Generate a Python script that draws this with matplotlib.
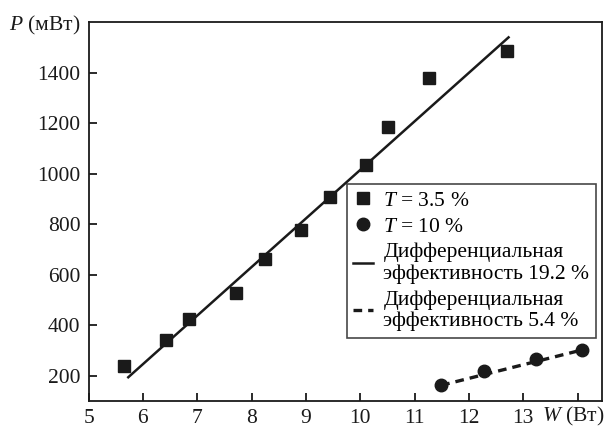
import numpy as np
from matplotlib import pyplot as plt
from matplotlib import transforms

plt.rcParams['font.family'] = ['Liberation Serif', 'DejaVu Serif']
plt.rcParams['mathtext.fontset'] = 'custom'
plt.rcParams['mathtext.rm'] = 'Liberation Serif'
plt.rcParams['mathtext.it'] = 'Liberation Serif:italic'

# T = 3.5 %
W_sq = [5.66, 6.43, 6.84, 7.71, 8.25, 8.91, 9.45, 10.11, 10.51, 11.27, 12.71]
P_sq = [238, 340, 426, 529, 663, 778, 908, 1034, 1184, 1378, 1485]
# fit line (19.2 %)
W_fit1 = [5.73, 12.73]
P_fit1 = [194, 1540]
# T = 10 %
W_ci = [11.49, 12.27, 13.24, 14.08]
P_ci = [163, 217, 267, 300]
# fit line (5.4 %)
W_fit2 = [11.49, 14.08]
P_fit2 = [162, 302]

xticks = [5, 6, 7, 8, 9, 10, 11, 12, 13, 14]
xlabels = ['5', '6', '7', '8', '9', '10', '11', '12', '13', r'$\mathit{W}$ (Вт)']
yticks = [200, 400, 600, 800, 1000, 1200, 1400, 1600]
ylabels = ['200', '400', '600', '800', '1000', '1200', '1400', r'$\mathit{P}$ (мВт)']

fig = plt.figure(figsize=(6.09, 4.28), dpi=100)
ax = fig.add_axes([0.1455, 0.0631, 0.843, 0.885])

ax.plot(W_sq, P_sq, 's', color='#1a1a1a', markersize=8.5, label=r'$\mathit{T}$ = 3.5 %')
ax.plot(W_ci, P_ci, 'o', color='#1a1a1a', markersize=9, label=r'$\mathit{T}$ = 10 %')
ax.plot(W_fit1, P_fit1, '-', color='#1a1a1a', lw=1.8,
        label='Дифференциальная\nэффективность 19.2 %')
ax.plot(W_fit2, P_fit2, '--', color='#1a1a1a', lw=2.4, dashes=(2.6, 1.8),
        label='Дифференциальная\nэффективность 5.4 %')

ax.set_xlim(5, 14.45)
ax.set_ylim(100, 1598)
ax.set_xticks(xticks)
ax.set_xticklabels(xlabels)
ax.set_yticks(yticks)
ax.set_yticklabels(ylabels)
ax.tick_params(direction='in', length=6, width=1.3, labelsize=15.5, pad=6, colors='#1a1a1a')
ax.yaxis.get_major_ticks()[-1].tick1line.set_visible(False)
lab = ax.get_xticklabels()[-1]
lab.set_transform(lab.get_transform() + transforms.ScaledTranslation(-4 / 100, 4 / 100, fig.dpi_scale_trans))
for s in ax.spines.values():
    s.set_linewidth(1.3)
    s.set_color('#1a1a1a')

leg = ax.legend(loc='upper left', bbox_to_anchor=(0.503, 0.572), borderaxespad=0, fontsize=15.5,
                frameon=True, fancybox=False, edgecolor='#1a1a1a', handlelength=0.9,
                handletextpad=0.5, labelspacing=0.28, borderpad=0.3)
leg.get_frame().set_linewidth(1.2)
for t in leg.get_texts():
    t.set_linespacing(1.15)

plt.savefig('out.png', dpi=100)
